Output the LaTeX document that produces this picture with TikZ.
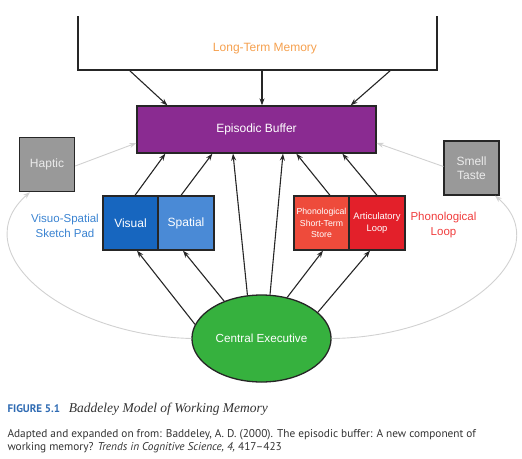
\documentclass[tikz,border=0pt]{standalone}
\usepackage{fontspec}
\setmainfont{Liberation Sans}
\newfontfamily\capfont{PT Sans}
\newfontfamily\titlefont{Liberation Serif}
\usetikzlibrary{arrows.meta,shapes.geometric,positioning}
\definecolor{ltmorange}{HTML}{F5A04E}
\definecolor{ebpurple}{HTML}{8A2B91}
\definecolor{visblue}{HTML}{1766BF}
\definecolor{spablue}{HTML}{4A8AD6}
\definecolor{phonred}{HTML}{EE4B3B}
\definecolor{artred}{HTML}{E3202A}
\definecolor{cegreen}{HTML}{36B13E}
\definecolor{sensegray}{HTML}{999999}
\definecolor{lblblue}{HTML}{3A83D1}
\definecolor{lblred}{HTML}{F03C3C}
\definecolor{capblue}{HTML}{2F6BB3}
\begin{document}
\begin{tikzpicture}[x=1pt,y=-1pt,
    box/.style={draw=black!85,line width=1.3pt,minimum width=55pt,minimum height=54pt,
      inner sep=1pt,text=white,align=center,font=\fontsize{12}{14}\selectfont},
    tiny/.style={font=\fontsize{8.7}{11.5}\selectfont},
    lbl/.style={align=center,font=\fontsize{11.5}{15}\selectfont},
    arr/.style={-{Stealth[length=7pt,width=5pt]},line width=1.1pt,black!85},
    faint/.style={-{Stealth[length=7pt,width=5pt]},line width=0.9pt,black!18}]
  \useasboundingbox (0,0) rectangle (522,458);
  % Nodes
  \node[minimum width=359pt,minimum height=54pt,inner sep=0pt,outer sep=0pt] (LTM) at (257.5,43) {};
  \node[text=ltmorange,font=\fontsize{12}{14}\selectfont] (lt) at (265,49) {Long-Term Memory};
  \node[box,fill=ebpurple,minimum width=239pt,minimum height=47pt] (EB) at (256.5,129.5) {Episodic Buffer};
  \node[box,fill=sensegray,text=black!8] (H) at (47,164.5) {Haptic};
  \node[box,fill=sensegray,text=black!8] (ST) at (471.5,168) {Smell\\Taste};
  \node[box,fill=visblue] (V) at (130.5,223) {Visual};
  \node[box,fill=spablue,minimum width=56pt] (SP) at (186,223) {Spatial};
  \node[box,fill=phonred,tiny] (PS) at (321.5,223) {Phonological\\Short-Term\\Store};
  \node[box,fill=artred,font=\fontsize{9.4}{11.5}\selectfont,minimum width=56pt] (AL) at (377,223) {Articulatory\\Loop};
  \node[lbl,text=lblblue] (vsp) at (65,225.5) {Visuo-Spatial\\Sketch Pad};
  \node[lbl,text=lblred] (pl) at (443.5,225.5) {Phonological\\Loop};
  \node[ellipse,draw=black!85,line width=1.3pt,fill=cegreen,text=white,minimum width=129pt,
    minimum height=87pt,font=\fontsize{11.7}{14}\selectfont] (CE) at (261.5,338.5) {Central Executive};
  \node[anchor=base west,text=capblue,font=\capfont\bfseries\fontsize{11}{12}\selectfont] (fig) at (4,412) {FIGURE 5.1};
  \node[anchor=base west,inner sep=0pt,text=black!80,font=\titlefont\itshape\fontsize{13.5}{15}\selectfont]
    (title) at ([xshift=5pt]fig.base east) {Baddeley Model of Working Memory};
  \node[anchor=base west,text=black!80,font=\capfont\fontsize{11.3}{13}\selectfont] (src1) at (4,437)
    {Adapted and expanded on from: Baddeley, A. D. (2000). The episodic buffer: A new component of};
  \node[anchor=base west,text=black!80,font=\capfont\fontsize{11.3}{13}\selectfont] (src2) at (4,450)
    {working memory? \textit{Trends in Cognitive Science, 4,} 417–423};
  % Edges
  \draw[line width=2pt,black!85] (LTM.north west) -- (LTM.south west) -- (LTM.south east) -- (LTM.north east);
  \draw[arr] ([xshift=51pt]LTM.south west) -- ([xshift=31pt]EB.north west);
  \draw[arr] ([xshift=4.5pt]LTM.south) -- ([xshift=5.5pt]EB.north);
  \draw[arr] ([xshift=-46pt]LTM.south east) -- ([xshift=-26pt]EB.north east);
  \draw[arr] ([xshift=4.5pt]V.north) -- ([xshift=29pt]EB.south west);
  \draw[arr] ([xshift=-5pt]SP.north) -- ([xshift=76pt]EB.south west);
  \draw[arr] ([xshift=8.5pt]PS.north) -- ([xshift=160pt]EB.south west);
  \draw[arr] (AL.north) -- ([xshift=206pt]EB.south west);
  \draw[arr] (CE.168) -- ([xshift=6.5pt]V.south);
  \draw[arr] (CE.135) -- ([xshift=-3pt]SP.south);
  \draw[arr] (CE.108) -- ([xshift=-23.5pt]EB.south);
  \draw[arr] (CE.79) -- ([xshift=26.5pt]EB.south);
  \draw[arr] (CE.58) -- ([xshift=1.5pt]PS.south);
  \draw[arr] (CE.25) -- ([xshift=-7pt]AL.south);
  \draw[faint] ([yshift=-1.5pt]H.east) -- ([yshift=-13.5pt]EB.west);
  \draw[faint] ([yshift=1.5pt]ST.west) -- ([yshift=-13.5pt]EB.east);
  \draw[faint] (CE.west) .. controls (60,335) and (-36,250) .. ([xshift=-17pt]H.south);
  \draw[faint] (CE.east) .. controls (465,337) and (558,250) .. ([xshift=23.5pt]ST.south);
\end{tikzpicture}
\end{document}
